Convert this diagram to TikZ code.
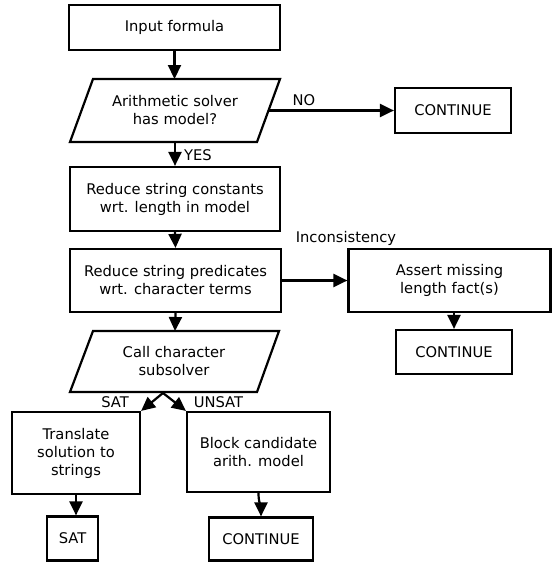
\documentclass[tikz,border=0pt]{standalone}
\usepackage{fontspec}
\setmainfont{DejaVu Sans}
\usetikzlibrary{arrows.meta}

\begin{document}
\begin{tikzpicture}[x=1pt,y=-1pt,
  txt/.style={font=\fontsize{14.7}{18}\selectfont, align=center, inner sep=0pt},
  box/.style={txt, draw, line width=2.2pt},
  para/.style={draw, line width=2.2pt, line join=miter},
  flow/.style={line width=2.2pt, -{Triangle[length=14pt,width=13pt]}},
  lbl/.style={font=\fontsize{14.7}{18}\selectfont, inner sep=0pt}]
\useasboundingbox (0,0) rectangle (552,562);

% rectangular steps
\node[box, minimum width=211pt, minimum height=45pt] (input) at (174.5,27.5) {Input formula};
\node[box, minimum width=116pt, minimum height=45pt] (cont1) at (453,110.5) {CONTINUE};
\node[box, minimum width=210pt, minimum height=64pt] (redconst) at (175,199) {Reduce string constants\\wrt. length in model};
\node[box, minimum width=211pt, minimum height=63pt] (redpred) at (175.5,280.5) {Reduce string predicates\\wrt. character terms};
\node[box, minimum width=202pt, minimum height=63pt] (assert) at (449.5,280.5) {Assert missing\\length fact(s)};
\node[box, minimum width=116pt, minimum height=44pt] (cont2) at (454,352) {CONTINUE};
\node[box, minimum width=128pt, minimum height=82pt] (translate) at (76,453) {Translate\\solution to\\strings};
\node[box, minimum width=143pt, minimum height=80pt] (block) at (258.5,452) {Block candidate\\arith. model};
\node[box, minimum width=51pt, minimum height=44pt] (sat) at (72.5,538.5) {SAT};
\node[box, minimum width=104pt, minimum height=43pt] (cont3) at (261,539) {CONTINUE};

% decision parallelograms
\draw[para] (93,79) -- (280,79) -- (257,142) -- (70,142) -- cycle;
\node[txt] (arith) at (175,110.5) {Arithmetic solver\\has model?};
\coordinate (arithN) at (174.5,79);
\coordinate (arithS) at (175,142);
\coordinate (arithE) at (268.5,110.5);

\draw[para] (93,331) -- (279,331) -- (257,392) -- (70,392) -- cycle;
\node[txt] (charsolve) at (174,361.5) {Call character\\subsolver};
\coordinate (charN) at (175,331);
\coordinate (charS) at (163,393);

% connectors
\draw[flow] (input.south) -- (arithN);
\draw[flow] (arithE) -- (cont1.west);
\node[lbl] (nolbl) at (304,100) {NO};
\draw[flow] (arithS) -- (redconst.north);
\node[lbl, anchor=west] (yeslbl) at (184,155) {YES};
\draw[flow] (redconst.south) -- (redpred.north);
\draw[flow] (redpred.east) -- (assert.west);
\node[lbl] (inclbl) at (346,238) {Inconsistency};
\draw[flow] (assert.south -| cont2.north) -- (cont2.north);
\draw[flow] (redpred.south) -- (charN);
\draw[flow] (charS) -- (translate.north east);
\draw[flow] (charS) -- (block.north west);
\node[lbl] (satlbl) at (115,402) {SAT};
\node[lbl] (unsatlbl) at (218.5,402) {UNSAT};
\draw[flow] (translate.south) -- (translate.south |- sat.north);
\draw[flow] (block.south) .. controls +(0,10) and +(0,-10) .. (cont3.north);
\end{tikzpicture}
\end{document}
